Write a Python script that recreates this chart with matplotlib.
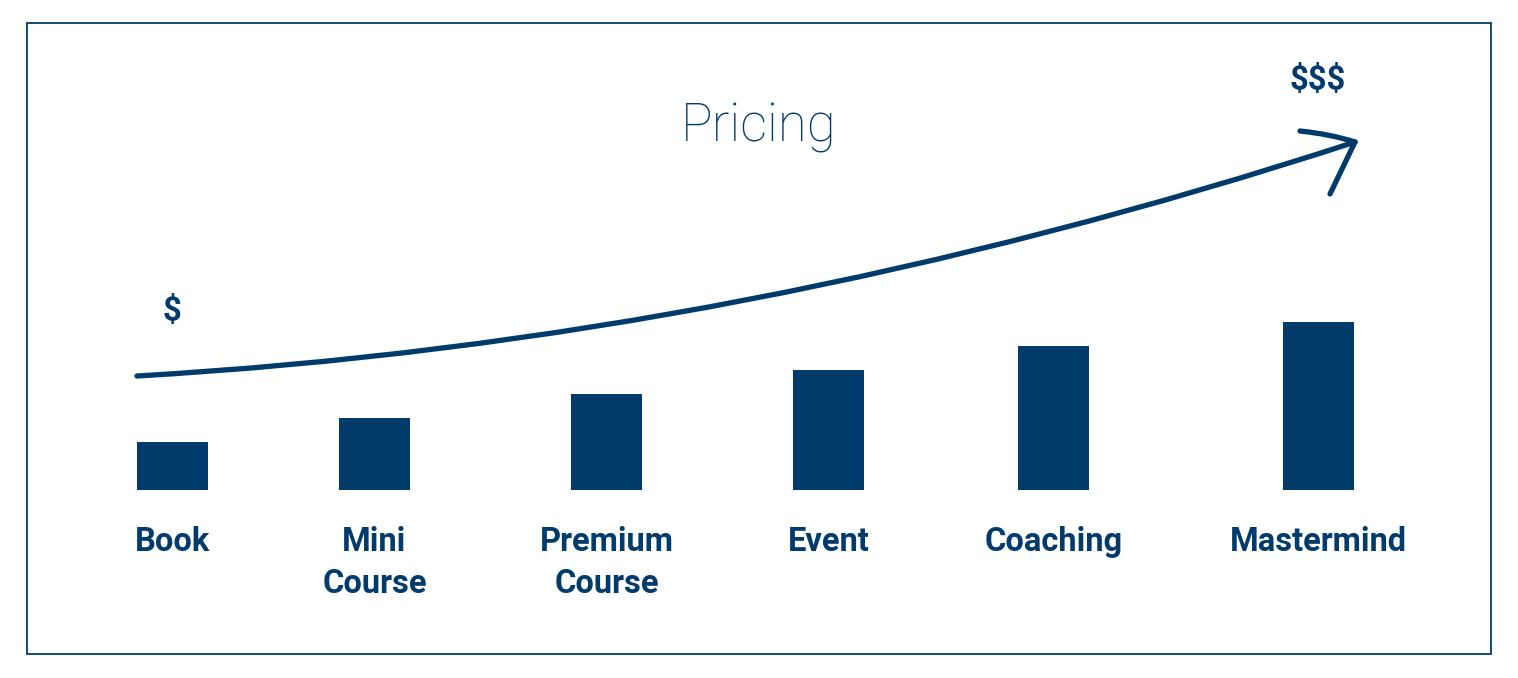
import numpy as np
import matplotlib
matplotlib.use("Agg")
import matplotlib.pyplot as plt
from matplotlib.path import Path
from matplotlib.patches import PathPatch, Rectangle

# Data
categories = ["Book", "Mini\nCourse", "Premium\nCourse", "Event", "Coaching", "Mastermind"]
price_level = [2, 3, 4, 5, 6, 7]
title = "Pricing"
low_label = "$"
high_label = "$$$"

navy = "#013b6b"
W, H = 1518, 678

fig = plt.figure(figsize=(W / 100, H / 100), dpi=100)

# main axes in value units: 0 at pixel row 490, 24 px per unit
ax = fig.add_axes([0, 0, 1, 1])
ax.set_xlim(0, W)
ax.set_ylim((490 - H) / 24, 490 / 24)
ax.axis("off")

xpos = [172.5, 374.5, 606.5, 828.5, 1053.5, 1318.5]
ax.bar(xpos, price_level, width=71, color=navy, zorder=2)

for x, lab in zip(xpos, categories):
    ax.text(x, -1.48, lab, ha="center", va="top", fontsize=23.5,
            fontweight="bold", family="Roboto", color=navy, linespacing=1.42)

# overlay in pixel coords for the decorations
ov = fig.add_axes([0, 0, 1, 1], facecolor="none")
ov.set_xlim(0, W)
ov.set_ylim(H, 0)
ov.axis("off")

ov.add_patch(Rectangle((27, 23), 1464, 631, fill=False, edgecolor=navy, lw=1.3))

ov.text(759, 127, title, ha="center", va="center", fontsize=38,
        family="Roboto", fontweight="light", color=navy)
ov.text(172, 311, low_label, ha="center", va="center", fontsize=23.5,
        fontweight="bold", family="Roboto", color=navy)
ov.text(1318, 80, high_label, ha="center", va="center", fontsize=23.5,
        fontweight="bold", family="Roboto", color=navy)

# rising curve with open arrow head
curve = Path([(137, 376), (746, 341), (1355, 142)],
             [Path.MOVETO, Path.CURVE3, Path.CURVE3])
ov.add_patch(PathPatch(curve, fill=False, edgecolor=navy, lw=3.8, capstyle="round"))
barb1 = Path([(1300, 131), (1330, 134), (1355, 142)],
             [Path.MOVETO, Path.CURVE3, Path.CURVE3])
ov.add_patch(PathPatch(barb1, fill=False, edgecolor=navy, lw=3.8, capstyle="round"))
ov.plot([1355, 1330], [142, 194], color=navy, lw=3.8, solid_capstyle="round")

fig.savefig("out.png", dpi=100, facecolor="white")
